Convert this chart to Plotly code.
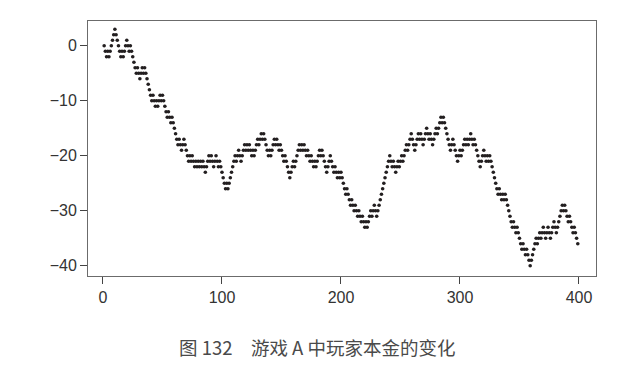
import plotly.graph_objects as go

# Player capital in game A
capital = [
    0, -1, -2, -1, -2, -1, 0, 1, 2, 3, 2, 1, 0, -1, -2, -1, -2, -1, 0, 1,
    0, -1, 0, -1, -2, -3, -4, -5, -4, -5, -6, -5, -4, -5, -4, -5, -6, -7, -8, -9,
    -10, -9, -10, -11, -10, -11, -10, -9, -10, -9, -10, -11, -12, -13, -12, -13, -14, -13, -14, -15,
    -16, -17, -18, -17, -18, -19, -18, -17, -18, -19, -20, -21, -20, -21, -20, -21, -22, -21, -22, -21,
    -22, -21, -22, -21, -22, -23, -22, -21, -20, -21, -20, -21, -22, -21, -20, -21, -22, -21, -22, -23,
    -24, -25, -26, -25, -26, -25, -24, -23, -22, -21, -20, -21, -20, -19, -20, -21, -20, -19, -18, -19,
    -18, -19, -18, -19, -20, -19, -20, -19, -18, -17, -18, -17, -16, -17, -16, -17, -18, -19, -20, -19,
    -20, -19, -18, -17, -18, -17, -18, -19, -18, -19, -20, -21, -20, -21, -22, -23, -24, -23, -22, -21,
    -22, -21, -20, -19, -18, -19, -18, -19, -18, -19, -20, -19, -20, -21, -20, -21, -22, -21, -22, -21,
    -20, -19, -20, -19, -20, -21, -22, -23, -22, -21, -20, -21, -22, -23, -22, -23, -24, -23, -24, -23,
    -24, -25, -26, -27, -26, -27, -28, -29, -28, -29, -30, -29, -30, -31, -30, -31, -32, -31, -32, -33,
    -32, -33, -32, -31, -30, -31, -30, -29, -30, -31, -30, -29, -28, -27, -26, -25, -24, -23, -22, -21,
    -20, -21, -22, -21, -22, -23, -22, -21, -22, -21, -20, -21, -20, -19, -18, -19, -18, -17, -16, -17,
    -18, -19, -18, -17, -16, -17, -16, -17, -18, -17, -16, -15, -16, -17, -16, -17, -18, -17, -16, -15,
    -16, -15, -14, -13, -14, -13, -14, -15, -16, -17, -18, -19, -18, -17, -18, -19, -20, -21, -20, -19,
    -20, -19, -18, -17, -18, -17, -18, -17, -16, -17, -18, -17, -18, -19, -20, -21, -22, -21, -20, -19,
    -20, -21, -20, -21, -20, -21, -22, -23, -24, -25, -26, -27, -26, -27, -28, -27, -28, -27, -28, -29,
    -30, -31, -32, -33, -32, -33, -34, -33, -34, -35, -36, -37, -36, -37, -38, -37, -38, -39, -40, -39,
    -38, -37, -36, -35, -36, -35, -34, -35, -34, -33, -34, -35, -34, -33, -34, -35, -34, -33, -32, -33,
    -34, -33, -32, -31, -30, -29, -30, -29, -30, -31, -32, -31, -32, -33, -34, -33, -34, -35, -36,
]
plays = list(range(1, len(capital) + 1))

x_ticks = [0, 100, 200, 300, 400]
y_ticks = [0, -10, -20, -30, -40]
caption = "图 132\u3000游戏 A 中玩家本金的变化"

fig = go.Figure()
fig.add_trace(go.Scatter(
    x=plays, y=capital, mode="markers",
    marker=dict(size=3.6, color="#231f20", line=dict(width=0)),
    hoverinfo="skip", showlegend=False,
))

axis_common = dict(
    showline=True, linecolor="#6b6b6b", linewidth=1, mirror=True,
    showgrid=False, zeroline=False,
    ticks="outside", ticklen=7, tickwidth=1, tickcolor="#444",
    tickfont=dict(family="Liberation Sans, Arial, sans-serif", size=16, color="#333"),
)
fig.update_xaxes(range=[-12.6, 414.3], tickvals=x_ticks, ticktext=[str(v) for v in x_ticks], **axis_common)
fig.update_yaxes(range=[-41.87, 4.49], tickvals=y_ticks, ticktext=[str(v).replace("-", "\u2212") for v in y_ticks], **axis_common)

fig.update_layout(
    width=622, height=376,
    margin=dict(l=88, r=26, t=21, b=100),
    paper_bgcolor="white", plot_bgcolor="white",
    annotations=[dict(
        text=caption, xref="paper", yref="paper",
        x=(317 - 88) / 508, y=(276 - 347) / 255, xanchor="center", yanchor="middle",
        showarrow=False,
        font=dict(family="Noto Sans CJK SC", size=18.5, color="#4a4a4a"),
    )],
)

fig.write_html(
    "out.html",
    config={"displayModeBar": False},
    post_script="document.body.style.margin='0';document.body.style.padding='0';",
)
